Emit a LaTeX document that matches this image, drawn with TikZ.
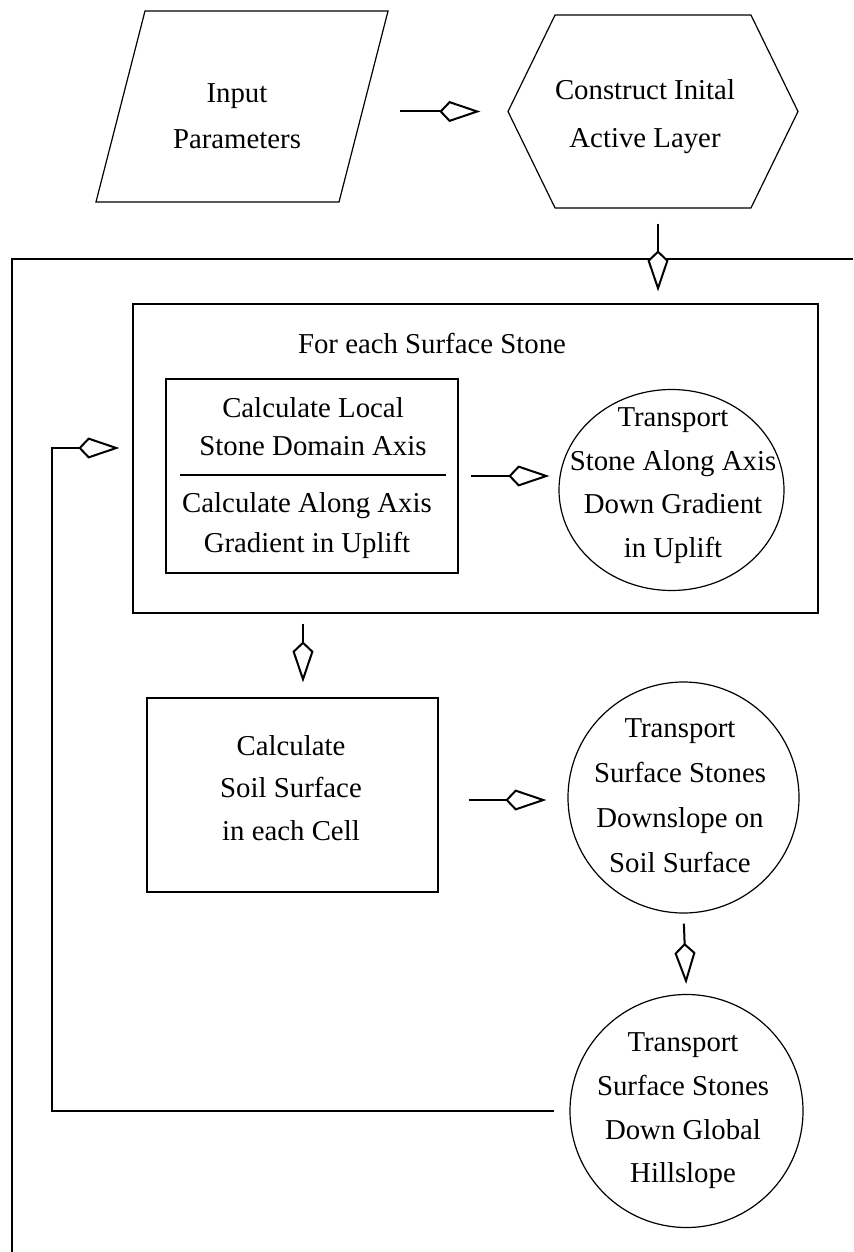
\documentclass[tikz,border=0pt]{standalone}
\usepackage{fontspec}
\setmainfont{Liberation Serif}
\usetikzlibrary{arrows.meta,shapes.geometric,shapes.symbols,calc}

\begin{document}
\begin{tikzpicture}[x=0.5pt,y=-0.5pt,
    shp/.style={draw,line width=.6pt,inner sep=0pt},
    io/.style={shp,trapezium,trapezium left angle=75.6,trapezium right angle=104.4},
    prep/.style={shp,signal,signal to=west and east,signal pointer angle=128,
      minimum width=145pt,minimum height=96.5pt},
    proc/.style={shp,rectangle},
    txt/.style={font=\fontsize{14.4pt}{#1}\selectfont,align=center,inner sep=0pt},
    txt/.default=22pt,
    conn/.style={line width=1pt,-{Kite[length=20.5pt,width=10.5pt,inset=5pt,fill=white]}}]
  \useasboundingbox (0,0) rectangle (853,1252);
  % outer frame
  \draw[line width=1pt] (12,1252) |- (853,259);
  % shapes
  \node[io] (in) at (242,106.5) {\phantom{\rule{97pt}{95.5pt}}};
  \node[prep] (init) at (653,111.5) {};
  \node[proc,minimum width=342.5pt,minimum height=154.5pt] (loop) at (475.5,458.5) {};
  \node[proc,minimum width=146pt,minimum height=97pt] (calc) at (312,476) {};
  \node[shp,ellipse,minimum width=112.5pt,minimum height=100.5pt] (tr1) at (671.5,490) {};
  \node[proc,minimum width=145.5pt,minimum height=97pt] (soil) at (292.5,795) {};
  \node[shp,circle,minimum size=115.5pt] (tr2) at (683.5,797.5) {};
  \node[shp,circle,minimum size=116.5pt] (tr3) at (686.5,1111) {};
  \draw[line width=.6pt] ([xshift=7.5pt,yshift=.5pt]calc.west) -- ([xshift=-6.5pt,yshift=.5pt]calc.east);
  % texts
  \node[txt=23pt] (inT) at (237,116) {Input\\Parameters};
  \node[txt=24pt] (initT) at (645,117) {Construct Inital\\Active Layer};
  \node[txt,anchor=base] (loopT) at (432,353) {For each Surface Stone};
  \node[txt=19pt] (calcA) at (313,427) {Calculate Local\\Stone Domain Axis};
  \node[txt=20pt] (calcB) at (307,526) {Calculate Along Axis\\Gradient in Uplift};
  \node[txt=21.7pt] (tr1T) at (673,485.6) {Transport\\Stone Along Axis\\Down Gradient\\in Uplift};
  \node[txt=21.25pt] (soilT) at (291,787.7) {Calculate\\Soil Surface\\in each Cell};
  \node[txt=22.5pt] (tr2T) at (680,796) {Transport\\Surface Stones\\Downslope on\\Soil Surface};
  \node[txt=21.8pt] (tr3T) at (683,1111) {Transport\\Surface Stones\\Down Global\\Hillslope};
  \coordinate (back) at (52,448);
  % connectors
  \begin{scope}[conn]
    \draw[shorten <=18pt,shorten >=13.5pt] (in.east |- init.west) -- (init.west);
    \draw[shorten <=7.5pt,shorten >=6pt] ([xshift=2.5pt]init.south) -- ([xshift=2.5pt]init.south |- loop.north);
    \draw[shorten <=6pt,shorten >=4.5pt] (calc.east) -- (calc.east -| tr1.west);
    \draw[shorten <=5pt,shorten >=7.5pt] ([xshift=5.25pt]soil.north |- loop.south) -- ([xshift=5.25pt]soil.north);
    \draw[shorten <=15pt,shorten >=10.5pt] ([yshift=-2.5pt]soil.east) -- ([yshift=-2.5pt]soil.east -| tr2.west);
    \draw[shorten <=5pt,shorten >=5pt] (tr2.south) -- (tr3.north);
    \draw[shorten <=7.5pt,shorten >=6.5pt] (tr3.west) -| (back) -- (back -| loop.west);
  \end{scope}
\end{tikzpicture}
\end{document}
